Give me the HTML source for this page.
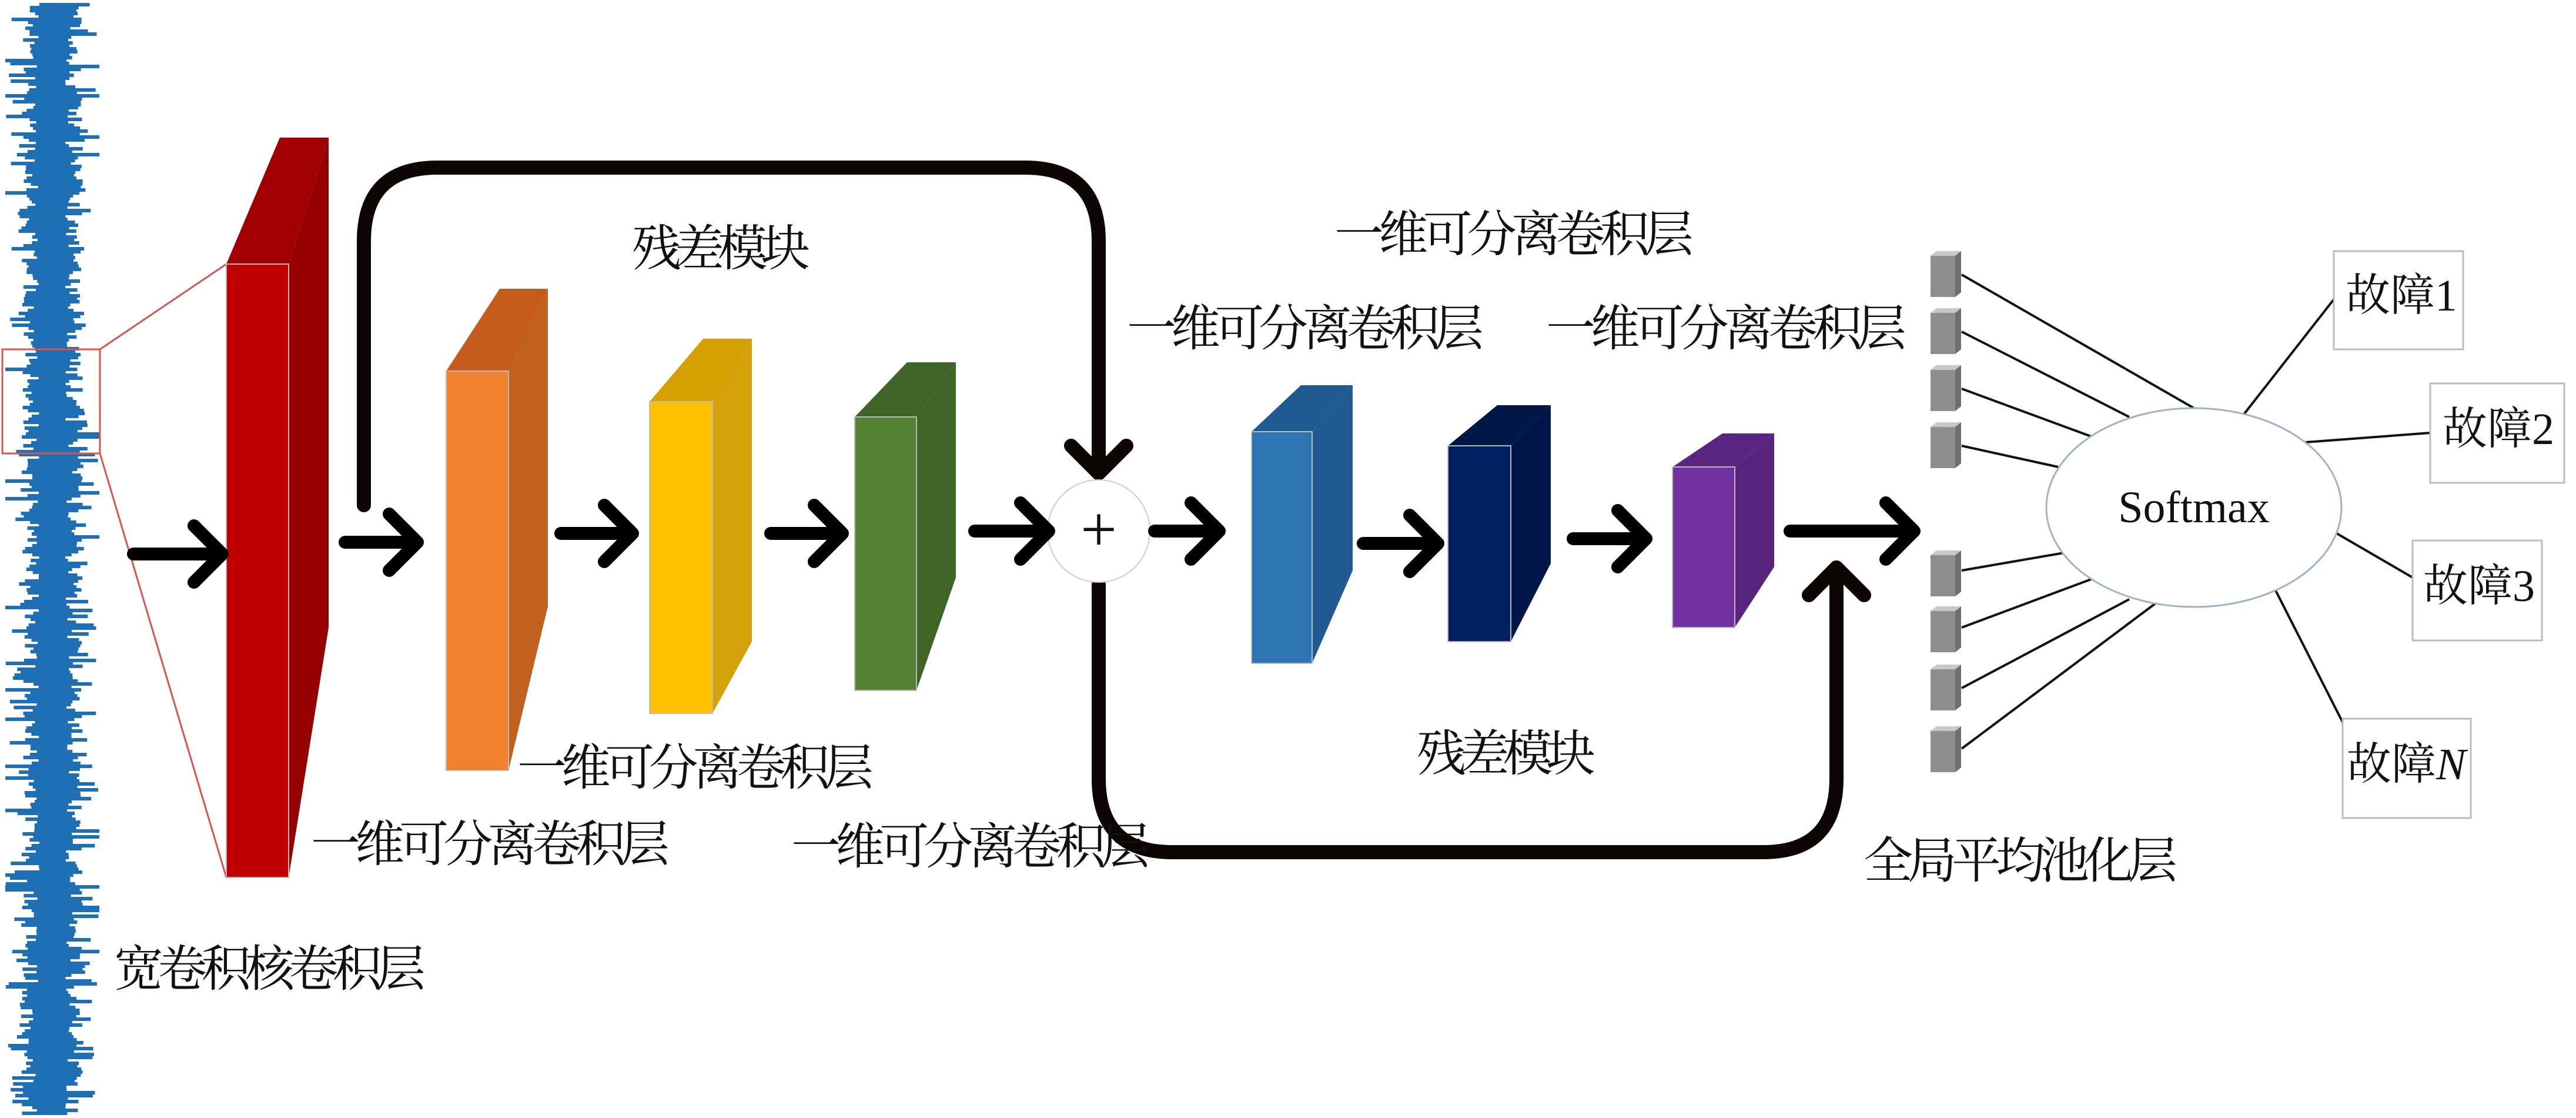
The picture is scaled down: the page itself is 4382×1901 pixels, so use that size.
<!DOCTYPE html>
<html><head><meta charset="utf-8"><style>
html,body{margin:0;padding:0;background:#fff;}
svg{display:block}
text{font-family:"Liberation Serif","Noto Serif CJK SC",serif;fill:#111;}
</style></head><body>
<svg id="s" width="4382" height="1901" viewBox="0 0 4382 1901" xmlns="http://www.w3.org/2000/svg">
<rect width="4382" height="1901" fill="#fff"/>
<g id="wave"><rect x="70" y="20" width="38" height="1870" fill="#1f6fb5"/></g>
<rect x="4" y="594" width="166" height="177" fill="none" stroke="#d9534f" stroke-width="3"/>
<line x1="170" y1="594" x2="385" y2="449" stroke="#d9534f" stroke-width="3"/>
<line x1="170" y1="771" x2="385" y2="1492" stroke="#d9534f" stroke-width="3"/>
<polygon points="385,449 476,234 559,234 491,449" fill="#a00000"/>
<polygon points="491,449 559,234 559,1067 491,1492" fill="#960000"/>
<rect x="385" y="449" width="106" height="1043" fill="#c00000"/>
<polygon points="759,631 850,491 932,491 865,631" fill="#c55a1d"/>
<polygon points="865,631 932,491 932,1031 865,1310" fill="#c2601f"/>
<rect x="759" y="631" width="106" height="679" fill="#f07f2e"/>
<polygon points="1105,683 1196,576 1279,576 1212,683" fill="#d6a000"/>
<polygon points="1212,683 1279,576 1279,1091 1212,1213" fill="#d4a10a"/>
<rect x="1105" y="683" width="107" height="530" fill="#ffc000"/>
<polygon points="1454,709 1543,616 1626,616 1559,709" fill="#3e6525"/>
<polygon points="1559,709 1626,616 1626,982 1559,1174" fill="#3e6525"/>
<rect x="1454" y="709" width="105" height="465" fill="#548235"/>
<polygon points="2129,734 2213,655 2301,655 2232,734" fill="#1f5b91"/>
<polygon points="2232,734 2301,655 2301,970 2232,1128" fill="#1f5b91"/>
<rect x="2129" y="734" width="103" height="394" fill="#2e75b6"/>
<polygon points="2463,758 2547,689 2638,689 2570,758" fill="#001848"/>
<polygon points="2570,758 2638,689 2638,958 2570,1091" fill="#00154a"/>
<rect x="2463" y="758" width="107" height="333" fill="#002060"/>
<polygon points="2845,794 2930,737 3018,737 2951,794" fill="#5a2580"/>
<polygon points="2951,794 3018,737 3018,964 2951,1067" fill="#58247d"/>
<rect x="2845" y="794" width="106" height="273" fill="#7030a0"/>
<g stroke="#bbb" stroke-width="2" fill="none">
<rect x="385" y="449" width="106" height="1043"/><rect x="759" y="631" width="106" height="679"/>
<rect x="1105" y="683" width="107" height="530"/><rect x="1454" y="709" width="105" height="465"/>
<rect x="2129" y="734" width="103" height="394"/><rect x="2463" y="758" width="107" height="333"/>
<rect x="2845" y="794" width="106" height="273"/>
</g>
<g stroke="#0d0505" stroke-width="24" fill="none" stroke-linecap="round" stroke-linejoin="round">
<path d="M619,859 L619,410 Q619,285 744,285 L1744,285 Q1869,285 1869,410 L1869,800"/>
<polyline points="1822,758 1869,805 1916,758"/>
<path d="M1869,994 L1869,1324 Q1869,1449 1994,1449 L2999,1449 Q3124,1449 3124,1324 L3124,965"/>
<polyline points="3077,1012 3124,965 3171,1012"/>
</g>
<circle cx="1869" cy="903" r="87" fill="#fff" stroke="#ccc" stroke-width="2"/>
<text x="1869" y="900" font-size="110" text-anchor="middle" dominant-baseline="central" font-family="Liberation Sans">+</text>
<g stroke="#000" stroke-width="22" fill="none" stroke-linecap="round" stroke-linejoin="round">
<path d="M227,942 H378 M330,894 L378,942 L330,990"/>
<path d="M587,922 H710 M662,874 L710,922 L662,970"/>
<path d="M954,907 H1076 M1028,859 L1076,907 L1028,955"/>
<path d="M1311,907 H1433 M1385,859 L1433,907 L1385,955"/>
<path d="M1658,903 H1784 M1736,855 L1784,903 L1736,951"/>
<path d="M1964,903 H2074 M2026,855 L2074,903 L2026,951"/>
<path d="M2319,924 H2446 M2398,876 L2446,924 L2398,972"/>
<path d="M2676,916 H2800 M2752,868 L2800,916 L2752,964"/>
<path d="M3045,903 H3256 M3208,855 L3256,903 L3208,951"/>
</g>
<g id="cubes"></g>
<g stroke="#111" stroke-width="4">
<line x1="3337" y1="467" x2="3732" y2="694"/>
<line x1="3337" y1="564" x2="3622" y2="709"/>
<line x1="3337" y1="661" x2="3557" y2="742"/>
<line x1="3337" y1="758" x2="3501" y2="794"/>
<line x1="3337" y1="970" x2="3511" y2="940"/>
<line x1="3337" y1="1067" x2="3557" y2="985"/>
<line x1="3337" y1="1170" x2="3622" y2="1019"/>
<line x1="3337" y1="1273" x2="3668" y2="1025"/>
<line x1="3815" y1="707" x2="3970" y2="509"/>
<line x1="3922" y1="752" x2="4134" y2="736"/>
<line x1="3975" y1="907" x2="4104" y2="982"/>
<line x1="3871" y1="1004" x2="3985" y2="1228"/>
</g>
<ellipse cx="3732" cy="863" rx="251" ry="169" fill="#fff" stroke="#9fb3c8" stroke-width="3"/>
<text x="3732" y="863" font-size="76" text-anchor="middle" dominant-baseline="central">Softmax</text>
<g fill="#fff" stroke="#bbb" stroke-width="3">
<rect x="3970" y="427" width="220" height="167"/><rect x="4134" y="652" width="228" height="169"/>
<rect x="4104" y="919" width="220" height="170"/><rect x="3985" y="1222" width="218" height="169"/>
</g>
<g font-size="76" dominant-baseline="central">
<text x="3990" y="503">故障1</text>
<text x="4155" y="730">故障2</text>
<text x="4122" y="997">故障3</text>
<text x="3992" y="1300">故障<tspan font-style="italic">N</tspan></text>
</g>
<g font-size="84" dominant-baseline="central" lengthAdjust="spacingAndGlyphs">
<text x="1075" y="424" textLength="303">残差模块</text>
<text x="880" y="1307" textLength="606">一维可分离卷积层</text>
<text x="529" y="1437" textLength="610">一维可分离卷积层</text>
<text x="1346" y="1441" textLength="610">一维可分离卷积层</text>
<text x="194" y="1649" textLength="530">宽卷积核卷积层</text>
<text x="2270" y="400" textLength="611">一维可分离卷积层</text>
<text x="1917" y="560" textLength="607">一维可分离卷积层</text>
<text x="2630" y="560" textLength="613">一维可分离卷积层</text>
<text x="2410" y="1283" textLength="304">残差模块</text>
<text x="3170" y="1465" textLength="534">全局平均池化层</text>
</g>
</svg>
<script>
(function(){
var ns="http://www.w3.org/2000/svg";
var g=document.getElementById('wave');
var seed=7;function r(){seed=(seed*16807)%2147483647;return seed/2147483647;}
var d="";
for(var y=8;y<1895;y+=5){
  var a=22+r()*30; if(r()<0.3)a+=r()*45;
  var b=22+r()*30; if(r()<0.3)b+=r()*45;
  if(a>80)a=80; if(b>80)b=80;
  d+="M"+(89-a).toFixed(1)+","+y+"H"+(89+b).toFixed(1);
}
var p=document.createElementNS(ns,"path");
p.setAttribute("d",d);p.setAttribute("stroke","#1f6fb5");p.setAttribute("stroke-width","6");
g.appendChild(p);
var c=document.getElementById('cubes');
var ys=[427,524,621,718,936,1031,1130,1235];
ys.forEach(function(y){
  var h=78,w=42,dx=10,dy=8;
  function poly(pts,f){var e=document.createElementNS(ns,"polygon");e.setAttribute("points",pts);e.setAttribute("fill",f);c.appendChild(e);}
  poly((3284)+","+(y+dy)+" "+(3284+dx)+","+y+" "+(3284+w+dx)+","+y+" "+(3284+w)+","+(y+dy),"#c8c8c8");
  poly((3284+w)+","+(y+dy)+" "+(3284+w+dx)+","+y+" "+(3284+w+dx)+","+(y+h-dy)+" "+(3284+w)+","+(y+h),"#6e6e6e");
  var rc=document.createElementNS(ns,"rect");rc.setAttribute("x",3284);rc.setAttribute("y",y+dy);rc.setAttribute("width",w);rc.setAttribute("height",h-dy);rc.setAttribute("fill","#8e8e8e");c.appendChild(rc);
});
})();
</script>
</body></html>
